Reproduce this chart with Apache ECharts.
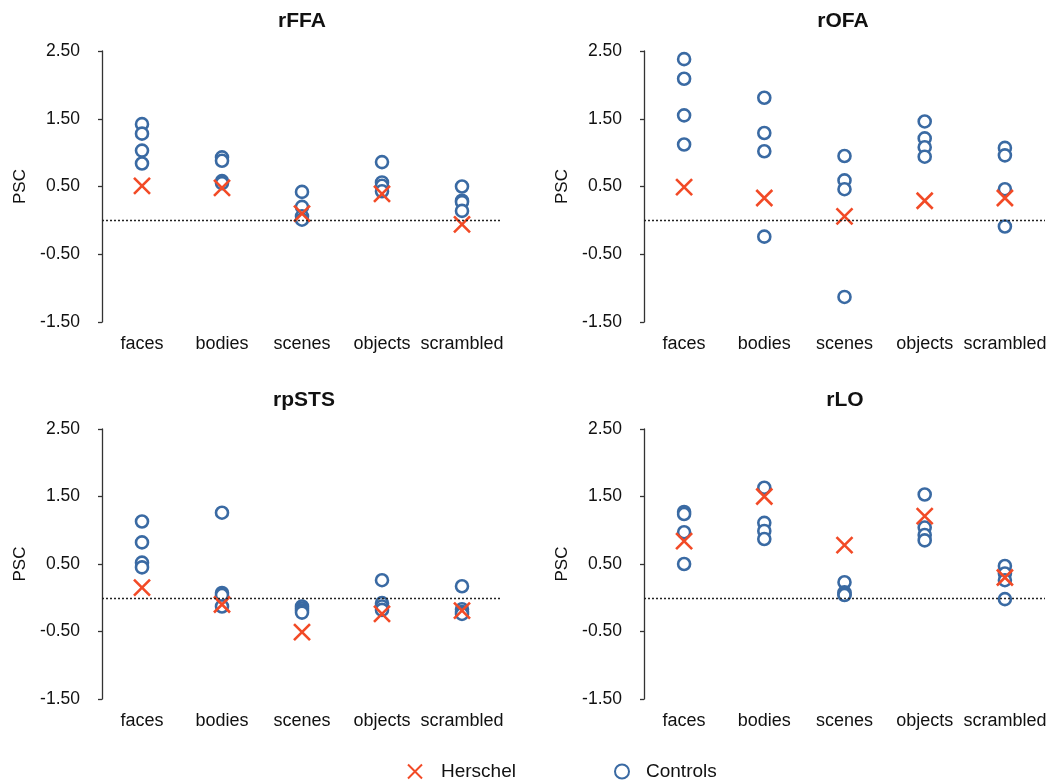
<!DOCTYPE html>
<html>
<head>
<meta charset="utf-8">
<script src="https://cdn.jsdelivr.net/npm/echarts@6/dist/echarts.min.js"></script>
<style>
html,body{margin:0;padding:0;background:#fff;}
#chart{width:1057px;height:783px;}
</style>
</head>
<body>
<div id="chart"></div>
<script>
const categories = ['faces', 'bodies', 'scenes', 'objects', 'scrambled'];
const yTicks = [-1.5, -0.5, 0.5, 1.5, 2.5];
const panelTitles = ['rFFA', 'rOFA', 'rpSTS', 'rLO'];

const rFFA_herschel = [0.51, 0.48, 0.10, 0.39, -0.06];
const rFFA_controls = [[1.42, 1.28, 1.03, 0.84], [0.93, 0.88, 0.58, 0.55], [0.42, 0.20, 0.06, 0.01], [0.86, 0.56, 0.51, 0.43], [0.50, 0.29, 0.27, 0.14]];

const rOFA_herschel = [0.49, 0.33, 0.06, 0.29, 0.33];
const rOFA_controls = [[2.38, 2.09, 1.55, 1.12], [1.81, 1.29, 1.02, -0.24], [0.95, 0.59, 0.46, -1.13], [1.46, 1.21, 1.08, 0.94], [1.07, 0.96, 0.46, -0.09]];

const rpSTS_herschel = [0.15, -0.10, -0.51, -0.24, -0.19];
const rpSTS_controls = [[1.13, 0.82, 0.52, 0.45], [1.26, 0.07, 0.04, -0.13], [-0.13, -0.16, -0.19, -0.22], [0.26, -0.08, -0.13, -0.18], [0.17, -0.17, -0.21, -0.24]];

const rLO_herschel = [0.84, 1.50, 0.78, 1.21, 0.30];
const rLO_controls = [[1.27, 1.24, 0.97, 0.50], [1.63, 1.11, 0.99, 0.87], [0.23, 0.08, 0.05, 0.04], [1.53, 1.04, 0.93, 0.85], [0.47, 0.36, 0.26, -0.02]];

const herschelSets = [rFFA_herschel, rOFA_herschel, rpSTS_herschel, rLO_herschel];
const controlSets = [rFFA_controls, rOFA_controls, rpSTS_controls, rLO_controls];

const FONT = '"Liberation Sans", Arial, Helvetica, sans-serif';
const BLUE = '#3a6aa3';
const RED = '#f24a26';
const CROSS = 'path://M0,0L10,10M10,0L0,10';

const grids = [
  {left: 102, top: 51, width: 400, height: 271},
  {left: 644, top: 51, width: 401, height: 271},
  {left: 102, top: 429, width: 400, height: 270},
  {left: 644, top: 429, width: 401, height: 270}
];
const titleCenters = [[302, 11], [843, 11], [304, 390], [845, 390]];

const option = {
  backgroundColor: '#fff',
  animation: false,
  textStyle: {fontFamily: FONT},
  title: panelTitles.map((t, i) => ({
    text: t,
    left: titleCenters[i][0],
    top: titleCenters[i][1],
    textAlign: 'center',
    padding: 0,
    textStyle: {fontFamily: FONT, fontSize: 21, fontWeight: 'bold', color: '#111'}
  })),
  legend: [
    {data: ['Herschel'], left: 407, top: 762, itemWidth: 14, itemHeight: 14, padding: 0,
     textStyle: {fontFamily: FONT, fontSize: 19, color: '#111', padding: [0, 0, 0, 14]}},
    {data: ['Controls'], left: 614, top: 762, itemWidth: 14, itemHeight: 14, padding: 0,
     textStyle: {fontFamily: FONT, fontSize: 19, color: '#111', padding: [0, 0, 0, 12]}}
  ],
  grid: grids.map(g => Object.assign({containLabel: false}, g)),
  xAxis: grids.map((g, i) => ({
    type: 'category',
    gridIndex: i,
    data: categories,
    boundaryGap: true,
    axisLine: {show: false, onZero: false},
    axisTick: {show: false},
    axisLabel: {fontFamily: FONT, fontSize: 18, color: '#111', margin: 13, interval: 0},
    splitLine: {show: false}
  })),
  yAxis: grids.map((g, i) => ({
    type: 'value',
    gridIndex: i,
    min: -1.5,
    max: 2.5,
    name: 'PSC',
    nameLocation: 'middle',
    nameGap: 73,
    nameRotate: 90,
    nameTextStyle: {fontFamily: FONT, fontSize: 17, color: '#111'},
    axisLine: {show: true, lineStyle: {color: '#333', width: 1.3}},
    axisTick: {show: true, length: 4, lineStyle: {color: '#333', width: 1.3}, customValues: yTicks},
    axisLabel: {fontFamily: FONT, fontSize: 17.5, color: '#111', margin: 22,
      customValues: yTicks, formatter: v => v.toFixed(2)},
    splitLine: {show: false}
  })),
  series: []
};

for (let i = 0; i < 4; i++) {
  const ctrlData = [];
  controlSets[i].forEach((vals, ci) => vals.forEach(v => ctrlData.push([ci, v])));
  option.series.push({
    name: 'Controls',
    type: 'scatter',
    xAxisIndex: i, yAxisIndex: i,
    symbol: 'circle',
    symbolSize: 12,
    itemStyle: {color: '#fff', borderColor: BLUE, borderWidth: 2.6, opacity: 1},
    data: ctrlData,
    z: 2,
    markLine: {
      silent: true,
      symbol: ['none', 'none'],
      label: {show: false},
      lineStyle: {type: [2, 2], color: '#222', width: 1.3},
      data: [{yAxis: 0}]
    }
  });
  option.series.push({
    name: 'Herschel',
    type: 'scatter',
    xAxisIndex: i, yAxisIndex: i,
    symbol: CROSS,
    symbolSize: 16,
    itemStyle: {color: 'rgba(0,0,0,0)', borderColor: RED, borderWidth: 2.6, opacity: 1},
    data: herschelSets[i].map((v, ci) => [ci, v]),
    z: 3
  });
}

const chart = echarts.init(document.getElementById('chart'), null, {renderer: 'canvas'});
chart.setOption(option);
</script>
</body>
</html>
